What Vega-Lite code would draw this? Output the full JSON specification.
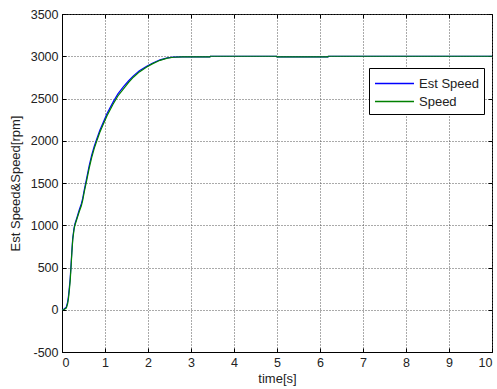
{
  "$schema": "https://vega.github.io/schema/vega-lite/v6.json",
  "width": 430,
  "height": 338,
  "autosize": "none",
  "padding": {"left": 62, "top": 14, "right": 5, "bottom": 37},
  "background": "white",
  "config": {
    "locale": {"number": {"decimal": ".", "thousands": ",", "grouping": [3], "currency": ["$", ""], "minus": "-"}},
    "font": "Liberation Sans",
    "view": {"stroke": "black", "strokeWidth": 1},
    "axis": {
      "labelFont": "Liberation Sans",
      "titleFont": "Liberation Sans",
      "labelFontSize": 12.5,
      "titleFontSize": 13,
      "labelColor": "#222",
      "titleColor": "#222",
      "titleFontWeight": "normal",
      "domainColor": "black",
      "tickColor": "black",
      "tickSize": -4,
      "gridColor": "#555555",
      "gridDash": [1, 2],
      "gridOpacity": 1,
      "gridWidth": 1
    },
    "legend": {
      "labelFont": "Liberation Sans",
      "labelFontSize": 13,
      "labelColor": "#222"
    }
  },
  "datasets": {
    "est": [
      {"t": 0, "v": 0, "s": "Est Speed"}, {"t": 0.05, "v": 8, "s": "Est Speed"}, {"t": 0.1, "v": 30, "s": "Est Speed"},
      {"t": 0.13, "v": 90, "s": "Est Speed"}, {"t": 0.15, "v": 160, "s": "Est Speed"}, {"t": 0.17, "v": 260, "s": "Est Speed"},
      {"t": 0.19, "v": 370, "s": "Est Speed"}, {"t": 0.21, "v": 530, "s": "Est Speed"}, {"t": 0.23, "v": 700, "s": "Est Speed"},
      {"t": 0.25, "v": 850, "s": "Est Speed"}, {"t": 0.28, "v": 965, "s": "Est Speed"}, {"t": 0.3, "v": 1015, "s": "Est Speed"},
      {"t": 0.35, "v": 1095, "s": "Est Speed"}, {"t": 0.4, "v": 1180, "s": "Est Speed"}, {"t": 0.45, "v": 1255, "s": "Est Speed"},
      {"t": 0.48, "v": 1315, "s": "Est Speed"}, {"t": 0.52, "v": 1425, "s": "Est Speed"}, {"t": 0.57, "v": 1550, "s": "Est Speed"},
      {"t": 0.63, "v": 1700, "s": "Est Speed"}, {"t": 0.69, "v": 1830, "s": "Est Speed"}, {"t": 0.75, "v": 1935, "s": "Est Speed"},
      {"t": 0.81, "v": 2025, "s": "Est Speed"}, {"t": 0.88, "v": 2125, "s": "Est Speed"}, {"t": 0.96, "v": 2220, "s": "Est Speed"},
      {"t": 1.05, "v": 2325, "s": "Est Speed"}, {"t": 1.19, "v": 2460, "s": "Est Speed"}, {"t": 1.3, "v": 2555, "s": "Est Speed"},
      {"t": 1.43, "v": 2640, "s": "Est Speed"}, {"t": 1.55, "v": 2710, "s": "Est Speed"}, {"t": 1.66, "v": 2768, "s": "Est Speed"},
      {"t": 1.8, "v": 2828, "s": "Est Speed"}, {"t": 1.97, "v": 2882, "s": "Est Speed"}, {"t": 2.1, "v": 2918, "s": "Est Speed"},
      {"t": 2.28, "v": 2958, "s": "Est Speed"}, {"t": 2.45, "v": 2981, "s": "Est Speed"}, {"t": 2.59, "v": 2990, "s": "Est Speed"},
      {"t": 2.8, "v": 2993, "s": "Est Speed"}, {"t": 3.44, "v": 2993, "s": "Est Speed"}, {"t": 3.45, "v": 3000, "s": "Est Speed"},
      {"t": 4.99, "v": 3000, "s": "Est Speed"}, {"t": 5.0, "v": 2993, "s": "Est Speed"}, {"t": 6.19, "v": 2993, "s": "Est Speed"},
      {"t": 6.2, "v": 3000, "s": "Est Speed"}, {"t": 10, "v": 3000, "s": "Est Speed"}
    ],
    "speed": [
      {"t": 0, "v": 0, "s": "Speed"}, {"t": 0.05, "v": 3, "s": "Speed"}, {"t": 0.1, "v": 20, "s": "Speed"},
      {"t": 0.13, "v": 70, "s": "Speed"}, {"t": 0.15, "v": 130, "s": "Speed"}, {"t": 0.17, "v": 230, "s": "Speed"},
      {"t": 0.19, "v": 340, "s": "Speed"}, {"t": 0.21, "v": 500, "s": "Speed"}, {"t": 0.23, "v": 680, "s": "Speed"},
      {"t": 0.25, "v": 830, "s": "Speed"}, {"t": 0.28, "v": 950, "s": "Speed"}, {"t": 0.3, "v": 1000, "s": "Speed"},
      {"t": 0.35, "v": 1080, "s": "Speed"}, {"t": 0.4, "v": 1160, "s": "Speed"}, {"t": 0.45, "v": 1230, "s": "Speed"},
      {"t": 0.48, "v": 1290, "s": "Speed"}, {"t": 0.52, "v": 1400, "s": "Speed"}, {"t": 0.57, "v": 1520, "s": "Speed"},
      {"t": 0.63, "v": 1670, "s": "Speed"}, {"t": 0.69, "v": 1800, "s": "Speed"}, {"t": 0.75, "v": 1910, "s": "Speed"},
      {"t": 0.81, "v": 2000, "s": "Speed"}, {"t": 0.88, "v": 2100, "s": "Speed"}, {"t": 0.96, "v": 2195, "s": "Speed"},
      {"t": 1.05, "v": 2300, "s": "Speed"}, {"t": 1.19, "v": 2435, "s": "Speed"}, {"t": 1.3, "v": 2530, "s": "Speed"},
      {"t": 1.43, "v": 2615, "s": "Speed"}, {"t": 1.55, "v": 2690, "s": "Speed"}, {"t": 1.66, "v": 2752, "s": "Speed"},
      {"t": 1.8, "v": 2815, "s": "Speed"}, {"t": 1.97, "v": 2872, "s": "Speed"}, {"t": 2.1, "v": 2910, "s": "Speed"},
      {"t": 2.28, "v": 2952, "s": "Speed"}, {"t": 2.45, "v": 2978, "s": "Speed"}, {"t": 2.59, "v": 2988, "s": "Speed"},
      {"t": 2.8, "v": 2992, "s": "Speed"}, {"t": 3.44, "v": 2992, "s": "Speed"}, {"t": 3.45, "v": 3000, "s": "Speed"},
      {"t": 4.99, "v": 3000, "s": "Speed"}, {"t": 5.0, "v": 2992, "s": "Speed"}, {"t": 6.18, "v": 2992, "s": "Speed"},
      {"t": 6.19, "v": 3000, "s": "Speed"}, {"t": 10, "v": 3000, "s": "Speed"}
    ]
  },
  "layer": [
    {
      "data": {"name": "est"},
      "mark": {"type": "line", "strokeWidth": 1.2},
      "encoding": {
        "x": {
          "field": "t", "type": "quantitative",
          "scale": {"domain": [0, 10], "nice": false, "zero": false},
          "axis": {"orient": "bottom", "values": [0,1,2,3,4,5,6,7,8,9,10], "format": "d", "title": "time[s]", "labelPadding": 8, "titlePadding": 4, "grid": true}
        },
        "y": {
          "field": "v", "type": "quantitative",
          "scale": {"domain": [-500, 3500], "nice": false, "zero": false},
          "axis": {"orient": "left", "values": [-500,0,500,1000,1500,2000,2500,3000,3500], "format": "d", "title": "Est Speed&Speed[rpm]", "labelPadding": 8, "titlePadding": 8, "grid": true}
        },
        "color": {
          "field": "s", "type": "nominal",
          "scale": {"domain": ["Est Speed", "Speed"], "range": ["#0000ff", "#008000"]},
          "legend": {
            "title": null, "orient": "none", "legendX": 307, "legendY": 54,
            "symbolType": "M-2,0H2", "symbolSize": 380, "symbolStrokeWidth": 1.5,
            "symbolOffset": 10,
            "strokeColor": "black", "fillColor": "white", "padding": 5,
            "rowPadding": 0, "labelOffset": 14
          }
        }
      }
    },
    {
      "data": {"name": "speed"},
      "mark": {"type": "line", "strokeWidth": 1.2},
      "encoding": {
        "x": {
          "field": "t", "type": "quantitative",
          "axis": {"orient": "top", "values": [0,1,2,3,4,5,6,7,8,9,10], "title": null, "labels": false, "grid": false, "domain": false}
        },
        "y": {
          "field": "v", "type": "quantitative",
          "axis": {"orient": "right", "values": [-500,0,500,1000,1500,2000,2500,3000,3500], "title": null, "labels": false, "grid": false, "domain": false}
        },
        "color": {"field": "s", "type": "nominal"}
      }
    }
  ],
  "resolve": {"axis": {"x": "independent", "y": "independent"}}
}
